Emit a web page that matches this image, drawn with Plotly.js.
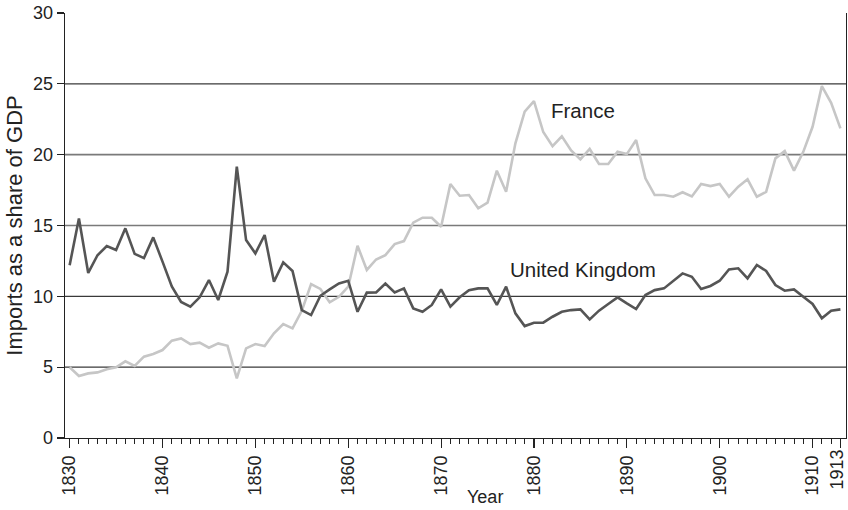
<!DOCTYPE html>
<html>
<head>
<meta charset="utf-8">
<script src="https://cdn.plot.ly/plotly-3.0.1.min.js"></script>
<style>html,body{margin:0;padding:0;background:#fff;}#chart{width:848px;height:510px;}</style>
</head>
<body>
<div id="chart"></div>
<script>
var years = [];
for (var yr = 1830; yr <= 1913; yr++) years.push(yr);

var france = [
  4.99, 4.38, 4.56, 4.63, 4.85, 4.99, 5.41, 5.08, 5.74, 5.93,
  6.21, 6.87, 7.03, 6.63, 6.73, 6.37, 6.68, 6.51, 4.21, 6.33,
  6.63, 6.49, 7.39, 8.05, 7.74, 8.98, 10.87, 10.52, 9.58, 9.97,
  10.68, 13.57, 11.86, 12.6, 12.91, 13.69, 13.9, 15.2, 15.55, 15.55,
  14.91, 17.93, 17.1, 17.15, 16.21, 16.61, 18.87, 17.38, 20.8, 23.03,
  23.78, 21.6, 20.6, 21.3, 20.3, 19.66, 20.4, 19.34, 19.34, 20.2,
  20.04, 21.03, 18.33, 17.15, 17.15, 17.03, 17.35, 17.05, 17.93, 17.78,
  17.93, 17.03, 17.74, 18.26, 17.03, 17.38, 19.74, 20.25, 18.87, 20.2,
  21.97, 24.84, 23.66, 21.86
];

var uk = [
  12.2, 15.5, 11.65, 12.9, 13.55, 13.27, 14.8, 13.0, 12.7, 14.16,
  12.45, 10.7, 9.6, 9.27, 9.93, 11.15, 9.74, 11.74, 19.15, 13.97,
  13.03, 14.33, 11.03, 12.4, 11.79, 9.03, 8.68, 10.04, 10.49, 10.91,
  11.1, 8.91, 10.26, 10.28, 10.91, 10.28, 10.56, 9.15, 8.91, 9.39,
  10.49, 9.27, 9.93, 10.44, 10.56, 10.56, 9.39, 10.68, 8.8, 7.9,
  8.14, 8.14, 8.56, 8.91, 9.03, 9.08, 8.37, 8.99, 9.46, 9.93,
  9.5, 9.1, 10.09, 10.44, 10.56, 11.1, 11.62, 11.38, 10.52, 10.73,
  11.1, 11.9, 11.98, 11.27, 12.21, 11.79, 10.8, 10.4, 10.49, 9.97,
  9.46, 8.45, 8.99, 9.08
];

var xTickVals = [1830, 1840, 1850, 1860, 1870, 1880, 1890, 1900, 1910, 1913];
var xTickText = ["1830", "1840", "1850", "1860", "1870", "1880", "1890", "1900", "1910", "1913"];
var yTickVals = [0, 5, 10, 15, 20, 25, 30];
var gridVals = [5, 10, 15, 20, 25];
var gridColors = ["#3a3a3a", "#3a3a3a", "#7a7a7a", "#7a7a7a", "#3a3a3a"];

var labelFrance = {name: "France", year: 1885.3, value: 23.15};
var labelUK = {name: "United Kingdom", year: 1885.3, value: 11.86};

var FONT = "Liberation Sans, Arial, Helvetica, sans-serif";

var traces = [
  {x: years, y: france, type: "scatter", mode: "lines", name: "France",
   line: {color: "#c6c6c6", width: 2.6}, hoverinfo: "skip"},
  {x: years, y: uk, type: "scatter", mode: "lines", name: "United Kingdom",
   line: {color: "#555555", width: 2.6}, hoverinfo: "skip"}
];

var shapes = gridVals.map(function (v, i) {
  return {type: "line", xref: "paper", x0: 0, x1: 1, yref: "y", y0: v, y1: v,
          layer: "below", line: {color: gridColors[i], width: i === 2 || i === 3 ? 1.6 : 1.1}};
});

// tick labels: the last one (1913) is drawn as an annotation so it is not dropped
var axisTickText = xTickText.map(function (t, i) { return i === xTickText.length - 1 ? "" : t; });

var annotations = [
  {x: labelFrance.year, y: labelFrance.value, xref: "x", yref: "y", text: labelFrance.name,
   showarrow: false, font: {family: FONT, size: 20.5, color: "#222"}},
  {x: labelUK.year, y: labelUK.value, xref: "x", yref: "y", text: labelUK.name,
   showarrow: false, font: {family: FONT, size: 20.5, color: "#222"}},
  {x: 0.538, y: 0, xref: "paper", yref: "paper", yshift: -59, yanchor: "middle", text: "Year",
   showarrow: false, font: {family: FONT, size: 18, color: "#222"}},
  {x: xTickVals[xTickVals.length - 1], y: 0, xref: "x", yref: "paper", yanchor: "top", xanchor: "center",
   yshift: -10, xshift: -3, textangle: -90, text: xTickText[xTickText.length - 1], showarrow: false,
   borderpad: 0, font: {family: FONT, size: 18, color: "#222"}}
];

var layout = {
  width: 848, height: 510,
  margin: {l: 65, r: 2, t: 13, b: 72, pad: 0},
  paper_bgcolor: "#ffffff", plot_bgcolor: "#ffffff",
  showlegend: false,
  font: {family: FONT, color: "#222222", size: 18},
  xaxis: {
    range: [1829.5, 1913.6],
    tickmode: "array", tickvals: xTickVals, ticktext: axisTickText,
    tickangle: -90,
    ticks: "outside", ticklen: 9, tickwidth: 1.2, tickcolor: "#222",
    minor: {tickmode: "linear", tick0: 1830, dtick: 1, ticks: "outside", ticklen: 5, tickwidth: 1, tickcolor: "#222", showgrid: false},
    showgrid: false, zeroline: false,
    showline: true, linecolor: "#222", linewidth: 1.3,
    tickfont: {family: FONT, size: 18, color: "#222"},
    fixedrange: true
  },
  yaxis: {
    range: [0, 30],
    tickmode: "array", tickvals: yTickVals,
    ticks: "outside", ticklen: 7, tickwidth: 1.2, tickcolor: "#222",
    showgrid: false, zeroline: false,
    showline: true, linecolor: "#222", linewidth: 1.3, mirror: true,
    tickfont: {family: FONT, size: 18, color: "#222"},
    title: {text: "Imports as a share of GDP", font: {family: FONT, size: 22, color: "#222"}, standoff: 4},
    fixedrange: true
  },
  shapes: shapes,
  annotations: annotations
};

Plotly.newPlot("chart", traces, layout, {staticPlot: true, displayModeBar: false});
</script>
</body>
</html>
